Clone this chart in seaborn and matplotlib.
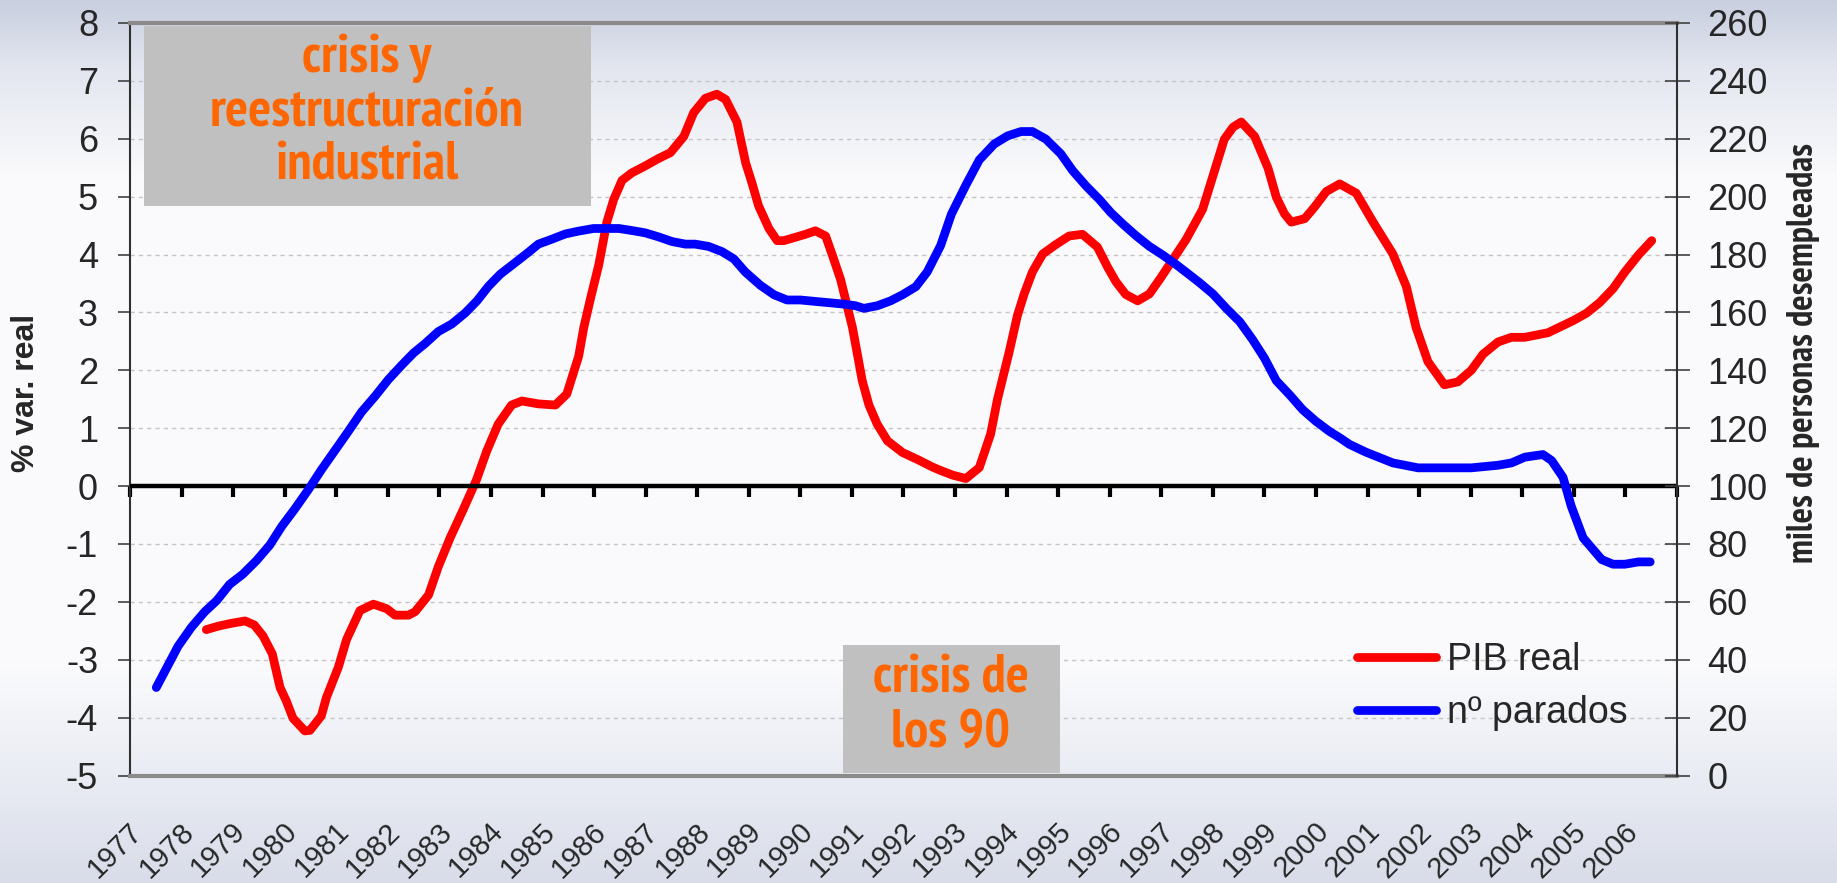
import numpy as np
import pandas as pd
import seaborn as sns
import matplotlib.pyplot as plt
from matplotlib.patches import Rectangle
from matplotlib.colors import LinearSegmentedColormap

sns.set_style('white')
plt.rcParams['font.family'] = ['Liberation Sans', 'DejaVu Sans']
plt.rcParams['axes.unicode_minus'] = False

# PIB real, % var. real (fecha en años decimales)
pib_year = [1978.48, 1978.71, 1978.97, 1979.23, 1979.41, 1979.58, 1979.76, 1979.91,
            1980.03, 1980.16, 1980.39, 1980.49, 1980.71, 1980.81, 1981.04, 1981.20,
            1981.46, 1981.72, 1981.98, 1982.14, 1982.40, 1982.53, 1982.79, 1982.98,
            1983.21, 1983.47, 1983.72, 1983.92, 1984.14, 1984.40, 1984.60, 1984.92,
            1985.25, 1985.47, 1985.70, 1985.80, 1985.93, 1986.09, 1986.25, 1986.38,
            1986.54, 1986.73, 1986.99, 1987.25, 1987.48, 1987.74, 1987.93, 1988.16,
            1988.38, 1988.55, 1988.77, 1988.94, 1989.06, 1989.19, 1989.39, 1989.55,
            1989.68, 1989.91, 1990.10, 1990.29, 1990.49, 1990.62, 1990.78, 1991.01,
            1991.20, 1991.33, 1991.49, 1991.69, 1991.98, 1992.27, 1992.56, 1992.69,
            1992.95, 1993.21, 1993.47, 1993.69, 1993.82, 1994.05, 1994.21, 1994.34,
            1994.50, 1994.70, 1994.95, 1995.21, 1995.47, 1995.76, 1995.96, 1996.12,
            1996.31, 1996.54, 1996.77, 1996.99, 1997.25, 1997.48, 1997.67, 1997.80,
            1997.96, 1998.22, 1998.39, 1998.55, 1998.81, 1999.07, 1999.23, 1999.39,
            1999.52, 1999.78, 1999.97, 2000.20, 2000.46, 2000.78, 2001.10, 2001.49,
            2001.75, 2001.94, 2002.17, 2002.49, 2002.75, 2003.01, 2003.24, 2003.53,
            2003.79, 2004.05, 2004.50, 2004.99, 2005.25, 2005.50, 2005.76, 2005.99,
            2006.25, 2006.51]
pib_val = [-2.48, -2.42, -2.37, -2.33, -2.40, -2.59, -2.90, -3.48,
           -3.71, -4.01, -4.23, -4.22, -3.97, -3.65, -3.13, -2.65,
           -2.15, -2.04, -2.12, -2.23, -2.23, -2.17, -1.88, -1.39,
           -0.89, -0.39, 0.11, 0.61, 1.07, 1.40, 1.47, 1.42,
           1.40, 1.59, 2.24, 2.74, 3.24, 3.82, 4.57, 4.95,
           5.28, 5.41, 5.53, 5.66, 5.76, 6.04, 6.45, 6.70,
           6.77, 6.68, 6.29, 5.58, 5.24, 4.84, 4.45, 4.24,
           4.24, 4.30, 4.35, 4.41, 4.32, 3.99, 3.57, 2.74,
           1.82, 1.40, 1.07, 0.78, 0.58, 0.46, 0.33, 0.28,
           0.19, 0.13, 0.32, 0.90, 1.49, 2.32, 2.95, 3.32,
           3.70, 4.01, 4.17, 4.32, 4.35, 4.13, 3.78, 3.53,
           3.31, 3.20, 3.32, 3.60, 3.95, 4.26, 4.57, 4.78,
           5.24, 5.99, 6.20, 6.29, 6.04, 5.49, 4.99, 4.70,
           4.56, 4.62, 4.82, 5.09, 5.22, 5.06, 4.57, 4.01,
           3.45, 2.74, 2.15, 1.75, 1.80, 2.00, 2.28, 2.49,
           2.57, 2.57, 2.65, 2.86, 2.99, 3.17, 3.41, 3.70,
           3.99, 4.24]

# nº parados, miles de personas
par_year = [1977.51, 1977.93, 1978.19, 1978.45, 1978.68, 1978.93, 1979.19, 1979.45,
            1979.71, 1979.94, 1980.20, 1980.46, 1980.71, 1980.97, 1981.23, 1981.49,
            1981.75, 1982.01, 1982.27, 1982.50, 1982.72, 1982.98, 1983.24, 1983.50,
            1983.73, 1983.95, 1984.18, 1984.47, 1984.70, 1984.92, 1985.18, 1985.44,
            1985.70, 1985.99, 1986.48, 1986.73, 1986.99, 1987.25, 1987.51, 1987.77,
            1987.96, 1988.22, 1988.48, 1988.71, 1988.93, 1989.23, 1989.49, 1989.74,
            1990.00, 1990.29, 1990.59, 1990.88, 1991.07, 1991.23, 1991.49, 1991.75,
            1991.98, 1992.24, 1992.46, 1992.72, 1992.93, 1993.21, 1993.47, 1993.76,
            1994.02, 1994.28, 1994.50, 1994.76, 1995.05, 1995.28, 1995.54, 1995.80,
            1996.02, 1996.25, 1996.51, 1996.77, 1997.03, 1997.29, 1997.51, 1997.74,
            1998.00, 1998.26, 1998.52, 1998.77, 1999.00, 1999.23, 1999.49, 1999.74,
            1999.99, 2000.26, 2000.46, 2000.65, 2000.97, 2001.49, 2001.98, 2002.49,
            2003.01, 2003.53, 2003.79, 2004.05, 2004.40, 2004.57, 2004.79, 2004.95,
            2005.18, 2005.54, 2005.76, 2005.99, 2006.25, 2006.48]
par_val = [30.4, 44.6, 51.2, 56.6, 60.4, 66.0, 69.6, 74.2,
           79.6, 86.0, 92.2, 98.8, 105.6, 112.2, 118.8, 125.6,
           131.0, 136.8, 141.8, 146.0, 149.2, 153.4, 156.0, 159.8,
           164.0, 169.0, 173.2, 177.2, 180.4, 183.6, 185.3, 187.1,
           188.1, 189.0, 189.0, 188.3, 187.5, 186.1, 184.5, 183.6,
           183.6, 182.8, 181.0, 178.5, 174.0, 169.3, 166.1, 164.3,
           164.3, 163.8, 163.3, 162.8, 162.3, 161.4, 162.3, 164.0,
           166.1, 168.9, 174.0, 183.1, 194.0, 204.0, 212.7, 218.2,
           221.0, 222.5, 222.5, 219.9, 214.8, 209.0, 203.7, 199.0,
           194.5, 190.6, 186.5, 182.8, 179.8, 176.5, 173.5, 170.3,
           166.4, 161.4, 156.8, 150.6, 144.2, 136.4, 131.5, 126.4,
           122.5, 118.9, 116.7, 114.4, 111.7, 108.0, 106.3, 106.3,
           106.3, 107.2, 108.0, 110.0, 110.9, 108.8, 103.0, 93.0,
           82.1, 74.6, 73.0, 73.0, 73.8, 73.8]

years = list(range(1977, 2007))
left_ticks = list(range(-5, 9))
right_ticks = list(range(0, 261, 20))

df_pib = pd.DataFrame({'year': pib_year, 'valor': pib_val})
df_par = pd.DataFrame({'year': par_year, 'valor': par_val})

narrow = ['Liberation Sans Narrow', 'Arial Narrow', 'PT Sans Narrow',
          'Roboto Condensed', 'Archivo Narrow', 'Liberation Sans']

fig = plt.figure(figsize=(18.37, 8.83), dpi=100)

# fondo degradado
bg = fig.add_axes([0, 0, 1, 1], zorder=-10)
bg_cmap = LinearSegmentedColormap.from_list(
    'bg', [(0, '#c9cfe0'), (0.08, '#e4e7f0'), (0.2, '#fafafc'),
           (0.75, '#fbfbfd'), (0.88, '#e9ecf3'), (1, '#d9dde9')])
bg.imshow(np.linspace(0, 1, 256).reshape(-1, 1), aspect='auto', cmap=bg_cmap,
          extent=[0, 1, 0, 1])
bg.axis('off')

ax = fig.add_axes([130 / 1837, 1 - 775.5 / 883, 1547 / 1837, 752.5 / 883])
ax.set_facecolor('none')
ax2 = ax.twinx()

sns.lineplot(data=df_pib, x='year', y='valor', ax=ax, color='#ff0000', linewidth=6.3,
             estimator=None, sort=False, legend=False)
sns.lineplot(data=df_par, x='year', y='valor', ax=ax2, color='#0000ff', linewidth=6.3,
             estimator=None, sort=False, legend=False)

ax.set_xlim(1977, 2007)
ax.set_ylim(-5, 8)
ax2.set_ylim(0, 260)
ax.set_yticks(left_ticks)
ax2.set_yticks(right_ticks)
# etiquetas de año algo desplazadas a la derecha, como en el original
ax.set_xticks([y + 0.35 for y in years])
ax.set_xticklabels([str(y) for y in years], rotation=45, ha='right', va='top', fontsize=21)
ax.tick_params(axis='x', length=0, pad=30)
ax.tick_params(axis='y', direction='out', length=9, width=1.2, labelsize=26, pad=14,
               color='#404040')
ax2.tick_params(axis='y', direction='inout', length=18, width=1.2, labelsize=26, pad=13,
                color='#404040')
ax.set_xlabel('')
ax.set_ylabel('')
ax2.set_ylabel('')

ax.yaxis.grid(True, linestyle=(0, (3, 3)), color='#c4c4c4', lw=1)
ax.xaxis.grid(False)

for s in ['top', 'bottom']:
    ax.spines[s].set_color('#8a8a8a')
    ax.spines[s].set_linewidth(3)
    ax2.spines[s].set_visible(False)
ax.spines['left'].set_color('#303030')
ax.spines['left'].set_linewidth(1.5)
ax.spines['right'].set_visible(False)
ax2.spines['left'].set_visible(False)
ax2.spines['right'].set_color('#303030')
ax2.spines['right'].set_linewidth(1.5)

# eje de categorías sobre el cero
ax.axhline(0, color='black', lw=3.2, zorder=3)
zero_pos = (0 - (-5)) / (8 - (-5))
sec = ax.secondary_xaxis(zero_pos)
sec.set_xticks(list(range(1977, 2008)))
sec.tick_params(direction='out', length=8, width=3, color='black',
                labelbottom=False, labeltop=False)
for s in sec.spines.values():
    s.set_visible(False)

fig.text(26 / 1837, 1 - 393 / 883, '% var. real', rotation=90, ha='center', va='center',
         fontsize=23, fontweight='bold')
fig.text(1804 / 1837, 1 - 353 / 883, 'miles de personas desempleadas', rotation=90,
         ha='center', va='center', fontsize=26, fontweight='bold', family=narrow)

# cajas de texto
ax.add_patch(Rectangle((14 / 1547, (775.5 - 206) / 752.5), 447 / 1547, 180 / 752.5,
                       transform=ax.transAxes, facecolor='#c0c0c0', edgecolor='none',
                       zorder=1))
ax.text((367 - 130) / 1547, (775.5 - 112) / 752.5, 'crisis y\nreestructuración\nindustrial',
        transform=ax.transAxes, ha='center', va='center', color='#ff6600',
        fontsize=39, fontweight='bold', family=narrow, linespacing=1.12, zorder=2)
ax.add_patch(Rectangle(((843 - 130) / 1547, (775.5 - 773) / 752.5), 217 / 1547, 128 / 752.5,
                       transform=ax.transAxes, facecolor='#c0c0c0', edgecolor='none',
                       zorder=1))
ax.text((951 - 130) / 1547, (775.5 - 706) / 752.5, 'crisis de\nlos 90',
        transform=ax.transAxes, ha='center', va='center', color='#ff6600',
        fontsize=39, fontweight='bold', family=narrow, linespacing=1.12, zorder=2)

handles = [ax.lines[0], ax2.lines[0]]
ax2.legend(handles, ['PIB real', 'nº parados'], loc='center left',
           bbox_to_anchor=((1357 - 130) / 1547, (775.5 - 686.5) / 752.5),
           frameon=False, fontsize=27, handlelength=2.1, handletextpad=0.3,
           labelspacing=0.45, borderpad=0, borderaxespad=0)

fig.savefig('out.png', dpi=100)
